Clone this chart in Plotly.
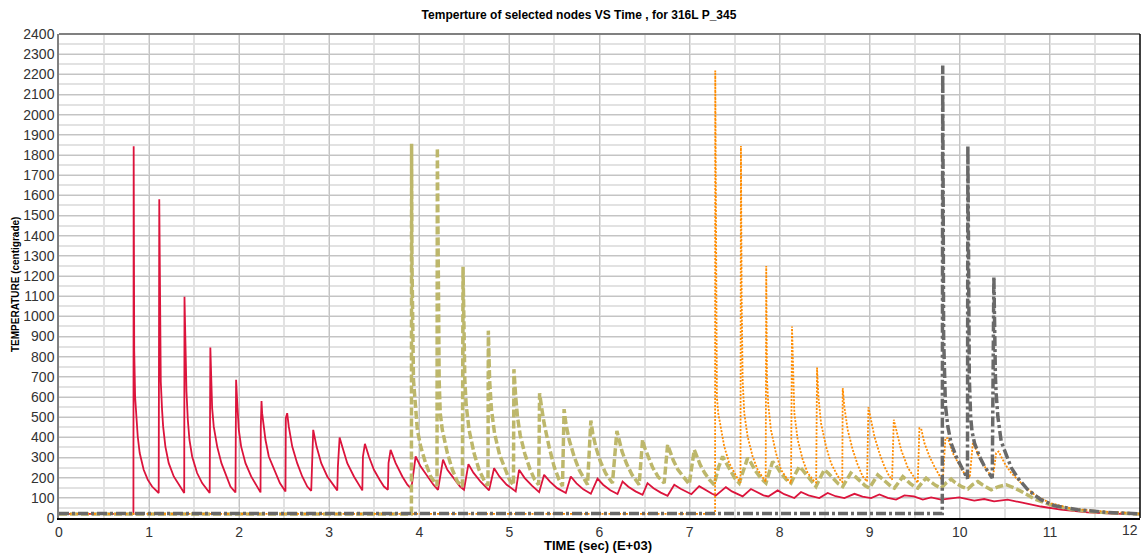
import plotly.graph_objects as go

# ---- node temperature histories (time in E+03 s, temperature in centigrade) ----
red_t = [0.0, 0.826, 0.829, 0.835, 0.845, 0.859, 0.874, 0.896, 0.94, 0.985, 1.033, 1.107,
         1.113, 1.12, 1.13, 1.144, 1.156, 1.181, 1.218, 1.274, 1.34, 1.39,
         1.393, 1.405, 1.415, 1.43, 1.448, 1.478, 1.533, 1.589, 1.673,
         1.68, 1.689, 1.70, 1.718, 1.756, 1.803, 1.859, 1.903, 1.959,
         1.962, 1.966, 1.978, 1.996, 2.022, 2.07, 2.133, 2.2, 2.237,
         2.24, 2.248, 2.255, 2.266, 2.292, 2.329, 2.403, 2.452, 2.514,
         2.518, 2.533, 2.551, 2.589, 2.644, 2.70, 2.756, 2.80,
         2.806, 2.822, 2.859, 2.911, 2.978, 3.052, 3.089,
         3.096, 3.115, 3.144, 3.2, 3.274, 3.33, 3.367,
         3.374, 3.396, 3.44, 3.496, 3.559, 3.607, 3.651,
         3.658, 3.681, 3.737, 3.811, 3.867, 3.911,
         3.959, 4.015, 4.089, 4.156, 4.207,
         4.263, 4.311, 4.393, 4.452, 4.496,
         4.545, 4.60, 4.68, 4.774,
         4.83, 4.89, 4.97, 5.07,
         5.107, 5.17, 5.25, 5.33,
         5.385, 5.45, 5.53, 5.626,
         5.681, 5.745, 5.82, 5.904,
         5.978, 6.04, 6.12, 6.2,
         6.256, 6.32, 6.40, 6.478,
         6.533, 6.60, 6.68, 6.756,
         6.83, 6.90, 6.97, 7.02,
         7.107, 7.18, 7.25, 7.292,
         7.403, 7.47, 7.54, 7.589,
         7.681, 7.75, 7.82, 7.874,
         7.978, 8.05, 8.163,
         8.237, 8.32, 8.44,
         8.533, 8.62, 8.718,
         8.83, 8.92, 9.015,
         9.107, 9.2, 9.292,
         9.385, 9.49, 9.589, 9.681, 9.792, 9.867, 9.993, 10.16, 10.27, 10.38, 10.53,
         10.68, 10.9, 11.12, 11.42, 11.7, 12.0]
red_temp = [20, 20, 1843, 830, 600, 487, 404, 322, 239, 190, 156, 124,
            1580, 1204, 676, 536, 453, 354, 272, 206, 156, 124,
            1097, 818, 627, 487, 388, 305, 223, 173, 124,
            845, 734, 545, 453, 354, 272, 206, 156, 127,
            446, 685, 577, 437, 354, 272, 206, 156, 127,
            452, 580, 520, 470, 388, 305, 223, 173, 132,
            495, 520, 453, 354, 272, 206, 156, 135,
            255, 437, 354, 272, 206, 156, 137,
            255, 399, 354, 272, 206, 165, 137,
            305, 368, 305, 239, 190, 156, 140,
            272, 338, 272, 206, 165, 144,
            305, 255, 206, 165, 140,
            289, 239, 190, 156, 140,
            267, 225, 180, 137,
            247, 205, 165, 132,
            239, 198, 160, 128,
            214, 180, 148, 124,
            206, 172, 142, 120,
            195, 165, 138, 119,
            181, 155, 132, 115,
            173, 148, 126, 110,
            165, 145, 127, 118,
            158, 138, 120, 112,
            153, 132, 115, 107,
            144, 126, 112, 107,
            137, 118, 99,
            129, 112, 99,
            124, 108, 99,
            120, 106, 99,
            117, 100, 91,
            112, 107, 91, 102, 91, 94, 102, 86, 94, 82, 91,
            77, 57, 41, 28, 22, 18]

olive_t = [0.0, 3.912, 3.914, 3.918, 3.935, 3.959, 3.978, 4.015, 4.07, 4.126, 4.181, 4.196,
           4.2, 4.212, 4.22, 4.232, 4.255, 4.311, 4.367, 4.422, 4.478,
           4.485, 4.495, 4.505, 4.52, 4.552, 4.607, 4.663, 4.72, 4.762,
           4.766, 4.78, 4.80, 4.835, 4.89, 4.95, 5.0, 5.045,
           5.05, 5.07, 5.09, 5.12, 5.17, 5.23, 5.28, 5.325,
           5.335, 5.36, 5.385, 5.44, 5.496, 5.551, 5.589,
           5.607, 5.626, 5.663, 5.718, 5.774, 5.829, 5.867,
           5.904, 5.925, 5.96, 6.01, 6.07, 6.144,
           6.193, 6.215, 6.25, 6.30, 6.36, 6.44,
           6.478, 6.50, 6.54, 6.59, 6.65, 6.718,
           6.756, 6.78, 6.82, 6.87, 6.93, 6.996,
           7.052, 7.08, 7.12, 7.17, 7.22, 7.273,
           7.32, 7.367, 7.40, 7.45, 7.50, 7.551,
           7.60, 7.644, 7.68, 7.73, 7.79, 7.848,
           7.89, 7.922, 7.96, 8.01, 8.07, 8.126,
           8.17, 8.218, 8.26, 8.31, 8.36, 8.403,
           8.45, 8.496, 8.54, 8.60, 8.65, 8.70,
           8.75, 8.79, 8.84, 8.90, 8.95, 8.996,
           9.04, 9.089, 9.13, 9.19, 9.24, 9.274,
           9.32, 9.367, 9.40, 9.45, 9.50, 9.533,
           9.58, 9.626, 9.67, 9.73, 9.792,
           9.85, 9.903, 9.95, 10.02, 10.089,
           10.14, 10.2, 10.25, 10.30, 10.348,
           10.43, 10.515, 10.60, 10.681, 10.83, 11.0, 11.26, 11.57, 12.0]
olive_temp = [20, 20, 1856, 1280, 685, 520, 437, 354, 272, 206, 165, 160,
              1835, 1100, 685, 520, 437, 322, 239, 181, 156,
              1246, 900, 685, 560, 437, 322, 239, 185, 160,
              929, 685, 540, 420, 315, 240, 190, 162,
              738, 600, 500, 410, 320, 240, 190, 165,
              619, 540, 470, 354, 255, 190, 158,
              540, 470, 388, 305, 239, 190, 165,
              483, 420, 350, 280, 220, 173,
              432, 390, 330, 270, 215, 165,
              388, 350, 300, 250, 205, 173,
              363, 330, 285, 240, 205, 168,
              338, 305, 262, 222, 190, 165,
              250, 305, 280, 235, 198, 173,
              240, 297, 275, 235, 198, 173,
              235, 280, 260, 225, 192, 173,
              215, 255, 235, 205, 178, 156,
              200, 239, 222, 192, 170, 156,
              190, 223, 205, 178, 160, 148,
              180, 214, 198, 172, 155, 148,
              175, 205, 192, 170, 155, 148,
              175, 198, 182, 162, 148,
              175, 193, 175, 155, 144,
              165, 181, 165, 150, 140,
              155, 165, 150, 132, 94, 66, 41, 28, 20]

orange_t = [0.0, 7.283, 7.285, 7.29, 7.295, 7.303, 7.318, 7.348, 7.385, 7.44, 7.496, 7.551, 7.565,
            7.57, 7.578, 7.589, 7.607, 7.644, 7.70, 7.756, 7.829, 7.845,
            7.851, 7.859, 7.874, 7.903, 7.959, 8.015, 8.089, 8.126,
            8.137, 8.15, 8.163, 8.2, 8.256, 8.311, 8.385, 8.405,
            8.415, 8.43, 8.459, 8.515, 8.57, 8.626, 8.681, 8.695,
            8.70, 8.718, 8.755, 8.811, 8.866, 8.922, 8.97,
            8.985, 9.015, 9.052, 9.107, 9.163, 9.218, 9.248,
            9.267, 9.292, 9.348, 9.422, 9.496, 9.533,
            9.551, 9.57, 9.607, 9.663, 9.718, 9.774, 9.81,
            9.84, 9.867, 9.922, 9.978, 10.033, 10.089, 10.11,
            10.144, 10.167, 10.226, 10.30, 10.348, 10.37,
            10.403, 10.43, 10.496, 10.57, 10.681, 10.83, 11.0, 11.26, 11.57, 12.0]
orange_temp = [20, 20, 2219, 1400, 833, 602, 520, 437, 354, 272, 223, 181, 175,
               1845, 1097, 685, 520, 404, 305, 239, 190, 180,
               1249, 693, 560, 437, 322, 239, 190, 173,
               949, 700, 520, 388, 289, 223, 181, 176,
               746, 602, 470, 354, 272, 223, 181, 178,
               644, 552, 437, 338, 264, 206, 181,
               549, 487, 404, 322, 255, 206, 190,
               487, 437, 338, 250, 200, 174,
               445, 445, 371, 305, 255, 206, 181,
               396, 396, 322, 272, 231, 206, 200,
               371, 354, 289, 239, 206, 210,
               322, 330, 272, 223, 173, 115, 74, 45, 33, 21]

gray_t = [0.0, 9.805, 9.81, 9.815, 9.82, 9.84, 9.855, 9.867, 9.903, 9.959, 10.015, 10.07, 10.085,
          10.089, 10.095, 10.105, 10.12, 10.135, 10.163, 10.218, 10.274, 10.33, 10.36,
          10.378, 10.385, 10.395, 10.403, 10.422, 10.459, 10.515, 10.57, 10.644, 10.755,
          10.9, 11.05, 11.31, 11.64, 12.0]
gray_temp = [22, 22, 2244, 1400, 900, 560, 503, 453, 371, 305, 255, 205, 195,
             1845, 1200, 700, 503, 430, 371, 305, 255, 214, 198,
             1196, 900, 700, 619, 503, 380, 310, 250, 198, 140,
             91, 61, 41, 28, 20]

# time ticks 0..11 sit centred under the axis; the end value 12 is right-aligned at the frame
x_ticks = list(range(0, 12))
x_end_label = "12"
y_ticks = list(range(0, 2401, 100))

fig = go.Figure()
fig.add_trace(go.Scatter(x=red_t, y=red_temp, mode="lines",
                         line=dict(color="#DC143C", width=1.8)))
fig.add_trace(go.Scatter(x=olive_t, y=olive_temp, mode="lines",
                         line=dict(color="#BDB76B", width=3.5, dash="8px,3px")))
fig.add_trace(go.Scatter(x=orange_t, y=orange_temp, mode="lines",
                         line=dict(color="#FF8C00", width=1.8, dash="2px,1.5px")))
fig.add_trace(go.Scatter(x=gray_t, y=gray_temp, mode="lines",
                         line=dict(color="#696969", width=3.5, dash="10px,3px,3px,3px")))

tick_font = dict(family="Liberation Sans, Arial, sans-serif", size=14, color="#333333")

fig.update_layout(
    width=1145, height=554,
    margin=dict(l=59, r=5, t=34, b=36, autoexpand=False),
    paper_bgcolor="white", plot_bgcolor="white",
    showlegend=False,
    title=dict(text="Temperture of selected nodes VS Time , for 316L P_345",
               x=579 / 1145, xanchor="center", xref="container",
               y=1 - 15 / 554, yanchor="middle", yref="container",
               font=dict(family="Liberation Sans, Arial, sans-serif", size=12,
                         color="#000000", weight="bold")),
    xaxis=dict(range=[0, 12], tickvals=x_ticks, ticktext=[str(v) for v in x_ticks],
               showgrid=True, gridcolor="#c4c4c4", gridwidth=1,
               minor=dict(dtick=0.5, showgrid=True, gridcolor="#e2e2e2", gridwidth=2),
               showline=True, linecolor="#000000", linewidth=2,
               zeroline=False, tickfont=tick_font, ticks="",
               ticklabeloverflow="allow", automargin=False),
    yaxis=dict(range=[0, 2400], tickvals=y_ticks, ticktext=[str(v) for v in y_ticks],
               showgrid=True, gridcolor="#c4c4c4", gridwidth=1,
               minor=dict(dtick=50, showgrid=True, gridcolor="#e2e2e2", gridwidth=2),
               showline=True, linecolor="#808080", linewidth=1.5,
               zeroline=False, tickfont=tick_font, ticks="",
               ticklabeloverflow="allow", automargin=False),
    shapes=[
        dict(type="line", xref="paper", yref="paper", x0=0, x1=1, y0=1, y1=1,
             line=dict(color="#808080", width=2)),
        dict(type="line", xref="paper", yref="paper", x0=1, x1=1, y0=0, y1=1,
             line=dict(color="#000000", width=1.5)),
    ],
    annotations=[
        dict(text=x_end_label, xref="paper", yref="paper",
             x=1.0, y=(518 - 530) / 484, showarrow=False,
             xanchor="right", yanchor="middle", font=tick_font),
        dict(text="TEMPERATURE (centigrade)", xref="paper", yref="paper",
             x=(15 - 59) / 1081, y=(518 - 285) / 484, textangle=-90,
             showarrow=False, xanchor="center", yanchor="middle",
             font=dict(family="Liberation Sans, Arial, sans-serif", size=10,
                       color="#000000", weight="bold")),
        dict(text="TIME (sec) (E+03)", xref="paper", yref="paper",
             x=(598 - 59) / 1081, y=(518 - 545) / 484,
             showarrow=False, xanchor="center", yanchor="middle",
             font=dict(family="Liberation Sans, Arial, sans-serif", size=13,
                       color="#000000", weight="bold")),
    ],
)

fig.write_html("out.html")
